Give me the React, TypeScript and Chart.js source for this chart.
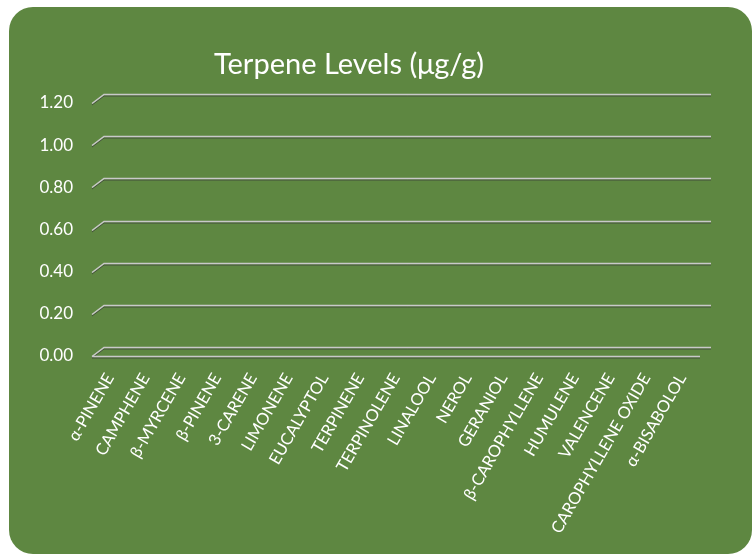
import React, { useEffect, useRef } from "react";
import { Chart, registerables } from "chart.js";

Chart.register(...registerables);

const titleText = "Terpene Levels (μg/g)";
const categories = [
  "α-PINENE",
  "CAMPHENE",
  "β-MYRCENE",
  "β-PINENE",
  "3-CARENE",
  "LIMONENE",
  "EUCALYPTOL",
  "TERPINENE",
  "TERPINOLENE",
  "LINALOOL",
  "NEROL",
  "GERANIOL",
  "β-CAROPHYLLENE",
  "HUMULENE",
  "VALENCENE",
  "CAROPHYLLENE OXIDE",
  "α-BISABOLOL",
];
const levels = [0, 0, 0, 0, 0, 0, 0, 0, 0, 0, 0, 0, 0, 0, 0, 0, 0];
const yMin = 0;
const yMax = 1.2;
const yStep = 0.2;

const FONT = "Lato, 'Open Sans', sans-serif";
const GREEN = "#5E8741";
const DEPTH_X = 12;
const DEPTH_Y = 9;

const gridPlugin = {
  id: "grid3d",
  beforeDatasetsDraw(chart: any) {
    const { ctx, chartArea, scales } = chart;
    const y = scales.y;
    const left = chartArea.left;
    const right = chartArea.right;
    ctx.save();
    const drawLine = (pts: number[][]) => {
      ctx.beginPath();
      ctx.strokeStyle = "rgba(60,60,60,0.75)";
      ctx.lineWidth = 1;
      pts.forEach((p, i) => (i ? ctx.lineTo(p[0], p[1] + 1.5) : ctx.moveTo(p[0], p[1] + 1.5)));
      ctx.stroke();
      ctx.beginPath();
      ctx.strokeStyle = "#C9C9C9";
      ctx.lineWidth = 1.5;
      pts.forEach((p, i) => (i ? ctx.lineTo(p[0], p[1]) : ctx.moveTo(p[0], p[1])));
      ctx.stroke();
    };
    y.ticks.forEach((t: any) => {
      const yf = Math.round(y.getPixelForValue(t.value)) + 0.5;
      drawLine([
        [left, yf],
        [left + DEPTH_X, yf - DEPTH_Y],
        [right + DEPTH_X - 1, yf - DEPTH_Y],
      ]);
      if (t.value === yMin) {
        drawLine([
          [left, yf],
          [right, yf],
        ]);
      }
    });
    ctx.restore();
  },
  afterDraw(chart: any) {
    const { ctx } = chart;
    ctx.save();
    ctx.fillStyle = "#FFFFFF";
    ctx.font = `29px ${FONT}`;
    ctx.textAlign = "center";
    ctx.textBaseline = "middle";
    ctx.fillText(titleText, 340, 58);
    ctx.restore();
  },
};

export default function App() {
  const ref = useRef<HTMLCanvasElement | null>(null);
  useEffect(() => {
    if (!ref.current) return;
    const chart = new Chart(ref.current, {
      type: "bar",
      data: {
        labels: categories,
        datasets: [
          {
            label: titleText,
            data: levels,
            backgroundColor: "#4472C4",
          },
        ],
      },
      options: {
        responsive: false,
        animation: false,
        events: [],
        layout: { padding: { top: 96, right: 52, left: 0, bottom: 0 } },
        plugins: {
          legend: { display: false },
          title: { display: false },
          tooltip: { enabled: false },
        },
        scales: {
          x: {
            grid: { display: false, drawTicks: false },
            border: { display: false },
            ticks: {
              color: "#FFFFFF",
              font: { family: FONT, size: 16.5 },
              autoSkip: false,
              maxRotation: 60,
              minRotation: 60,
              padding: 14,
            },
            afterFit(scale: any) {
              scale.height = 198;
            },
          },
          y: {
            min: yMin,
            max: yMax,
            grid: { display: false, drawTicks: false },
            border: { display: false },
            ticks: {
              stepSize: yStep,
              color: "#FFFFFF",
              font: { family: FONT, size: 17 },
              padding: 19,
              callback: (v: any) => Number(v).toFixed(2),
            },
            afterFit(scale: any) {
              scale.width = 83;
            },
          },
        },
      },
      plugins: [gridPlugin],
    });
    return () => chart.destroy();
  }, []);

  return (
    <div
      style={{
        position: "fixed",
        left: 9,
        top: 7,
        width: 743,
        height: 547,
        background: GREEN,
        borderRadius: 24,
        overflow: "hidden",
      }}
    >
      <canvas ref={ref} width={743} height={547} style={{ display: "block" }} />
    </div>
  );
}
